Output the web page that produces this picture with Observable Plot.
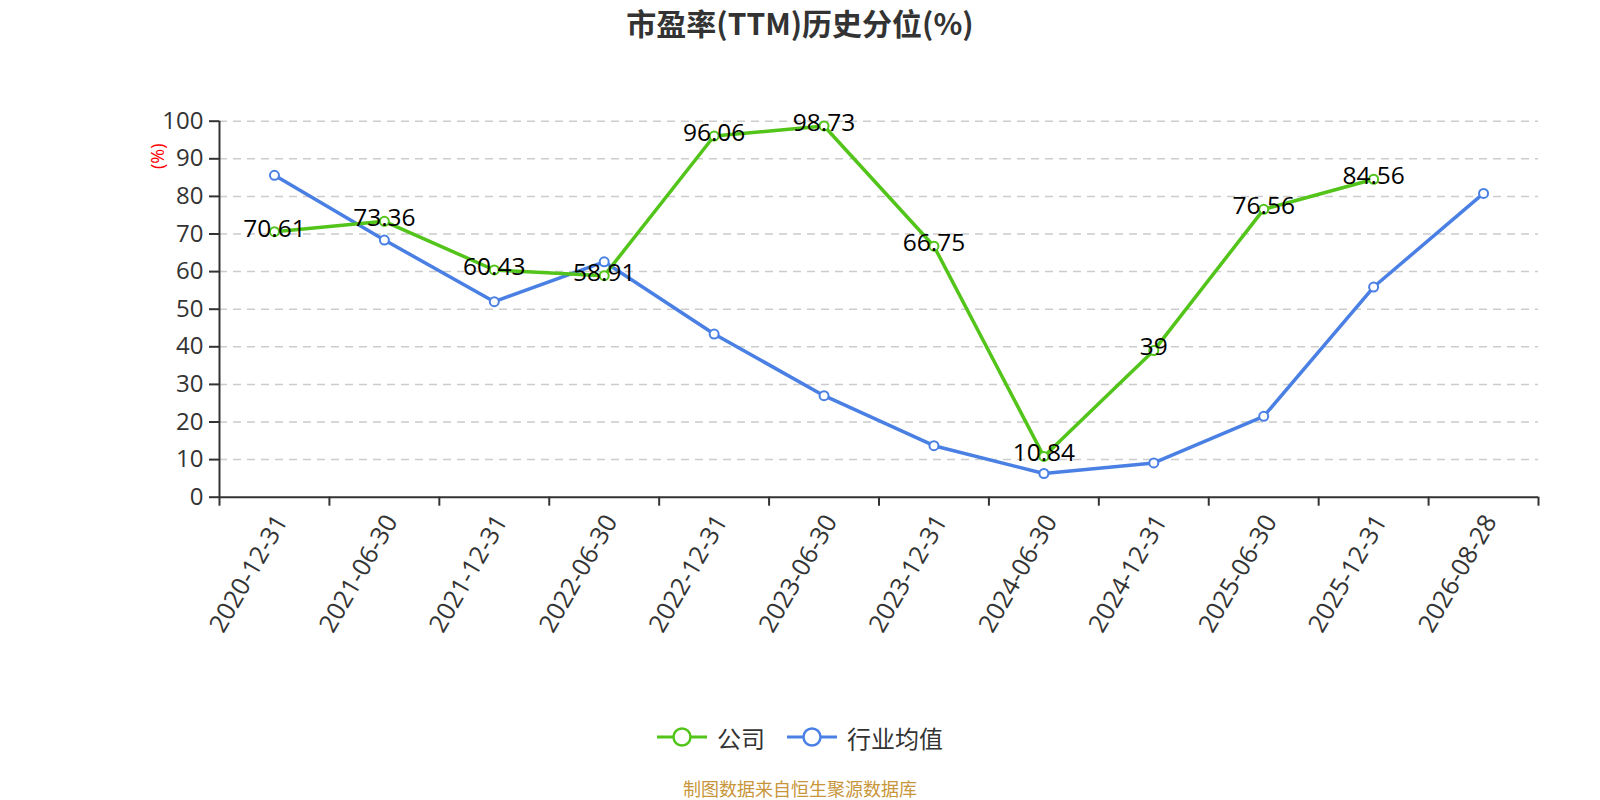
<!DOCTYPE html>
<html>
<head>
<meta charset="utf-8">
<script src="https://cdn.jsdelivr.net/npm/d3@7"></script>
<script src="https://cdn.jsdelivr.net/npm/@observablehq/plot@0.6"></script>
<style>
  html, body { margin: 0; padding: 0; background: #fff; overflow: hidden; }
  body { width: 1600px; height: 800px; font-family: "Open Sans", "Noto Sans CJK SC", sans-serif; }
  #title { height: 50px; line-height: 44px; text-align: center; font-size: 30px; font-weight: bold; color: #333; font-family: "Noto Sans CJK SC", sans-serif; }
  #chart svg { display: block; }
  #legend { height: 78px; display: flex; justify-content: center; align-items: flex-start; }
  #legend .items { margin-top: 35px; display: flex; align-items: center; height: 24px; font-size: 24px; color: #333; font-family: "Noto Sans CJK SC", sans-serif; }
  #legend .item { display: flex; align-items: center; margin: 0 11px; }
  #legend .item svg { margin-right: 10px; }
  #caption { height: 40px; line-height: 40px; text-align: center; font-size: 18px; color: #c8963a; font-family: "Noto Sans CJK SC", sans-serif; }
</style>
</head>
<body>
<div id="title"></div>
<div id="chart"></div>
<div id="legend"></div>
<div id="caption"></div>
<script>
const titleText = "市盈率(TTM)历史分位(%)";
const captionText = "制图数据来自恒生聚源数据库";
const yLabel = "(%)";
const dates = ["2020-12-31","2021-06-30","2021-12-31","2022-06-30","2022-12-31","2023-06-30","2023-12-31","2024-06-30","2024-12-31","2025-06-30","2025-12-31","2026-08-28"];
const company = [70.61, 73.36, 60.43, 58.91, 96.06, 98.73, 66.75, 10.84, 39, 76.56, 84.56, null];
const industry = [85.6, 68.4, 52.0, 62.6, 43.4, 27.0, 13.7, 6.3, 9.1, 21.5, 55.9, 80.8];
const yTicks = [0, 10, 20, 30, 40, 50, 60, 70, 80, 90, 100];
const seriesNames = ["公司", "行业均值"];
const seriesColors = ["#52c41a", "#4a80e3"];

const rows = dates.map((d, i) => ({i, date: d, company: company[i], industry: industry[i]}));
const bounds = d3.range(-0.5, dates.length, 1);
const compRows = rows.filter(r => r.company != null);

document.getElementById("title").textContent = titleText;
document.getElementById("caption").textContent = captionText;

const plot = Plot.plot({
  width: 1600,
  height: 640,
  marginLeft: 219,
  marginRight: 62,
  marginTop: 70.7,
  marginBottom: 193.3,
  style: {fontFamily: "'Open Sans', 'Noto Sans CJK SC', sans-serif", background: "#fff"},
  x: {type: "linear", domain: [-0.5, dates.length - 0.5]},
  y: {domain: [0, 100]},
  marks: [
    Plot.ruleY(yTicks.slice(1), {stroke: "#cccccc", strokeWidth: 1.5, strokeDasharray: "8,6"}),
    Plot.axisY({ticks: yTicks, tickSize: 10, tickPadding: 6, fontSize: 24, color: "#333", strokeWidth: 2, label: null, tickFormat: d => String(d)}),
    Plot.axisX({ticks: bounds, tickSize: 9, tickFormat: () => "", stroke: "#333", strokeWidth: 2, label: null}),
    Plot.ruleX([-0.5], {stroke: "#333", strokeWidth: 2}),
    Plot.ruleY([0], {stroke: "#333", strokeWidth: 2}),
    Plot.text(rows, {x: "i", text: "date", frameAnchor: "bottom", rotate: -60, textAnchor: "end", lineAnchor: "middle", dy: 20, dx: 7, fontSize: 25, fill: "#333"}),
    Plot.text([yLabel], {frameAnchor: "top-left", textAnchor: "middle", lineAnchor: "middle", dx: -61, dy: 35, rotate: -90, text: d => d, fill: "red", fontSize: 18}),
    Plot.line(rows, {x: "i", y: "industry", stroke: seriesColors[1], strokeWidth: 3.5}),
    Plot.line(rows, {x: "i", y: "company", stroke: seriesColors[0], strokeWidth: 3.5}),
    Plot.dot(rows, {x: "i", y: "industry", r: 4.5, fill: "#fff", stroke: seriesColors[1], strokeWidth: 2}),
    Plot.dot(compRows, {x: "i", y: "company", r: 4.5, fill: "#fff", stroke: seriesColors[0], strokeWidth: 2}),
    Plot.text(compRows, {x: "i", y: "company", text: d => String(d.company), dy: -3, fontSize: 24.5, fill: "#000", lineAnchor: "middle"})
  ]
});
document.getElementById("chart").appendChild(plot);

const legend = document.getElementById("legend");
const items = document.createElement("div");
items.className = "items";
seriesNames.forEach((name, k) => {
  const it = document.createElement("div");
  it.className = "item";
  it.innerHTML = `<svg width="50" height="24"><line x1="0" y1="12" x2="50" y2="12" stroke="${seriesColors[k]}" stroke-width="3"/><circle cx="25" cy="12" r="8.5" fill="#fff" stroke="${seriesColors[k]}" stroke-width="2.5"/></svg><span>${name}</span>`;
  items.appendChild(it);
});
legend.appendChild(items);
</script>
</body>
</html>
